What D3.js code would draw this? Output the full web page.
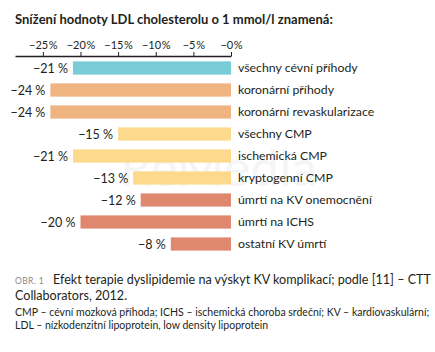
<!DOCTYPE html>
<html>
<head>
<meta charset="utf-8">
<script src="https://cdn.jsdelivr.net/npm/d3@7"></script>
<style>
  body { margin: 0; background: #fff; }
  svg { font-family: Lato, sans-serif; }
</style>
</head>
<body>
<div id="chart"></div>
<script>
const categories = [
    "všechny cévní příhody",
    "koronární příhody",
    "koronární revaskularizace",
    "všechny CMP",
    "ischemická CMP",
    "kryptogenní CMP",
    "úmrtí na KV onemocnění",
    "úmrtí na ICHS",
    "ostatní KV úmrtí"
];
const values = [-21, -24, -24, -15, -21, -13, -12, -20, -8];
const groups = ["all", "coronary", "coronary", "stroke", "stroke", "stroke", "death", "death", "death"];
const tickValues = [-25, -20, -15, -10, -5, 0];

const colors = d3.scaleOrdinal()
    .domain(["all", "coronary", "stroke", "death"])
    .range(["#77ccd5", "#f0b482", "#fdd98e", "#e0886f"]);

// shrink/grow a text's font so that it spans a given width
function fitWidth(sel, target) {
    const node = sel.node();
    const size = parseFloat(sel.style("font-size"));
    const w = node.getComputedTextLength();
    sel.style("font-size", (size * target / w).toFixed(2) + "px");
}

function renderChart() {
    const width = 435, height = 352;
    const svg = d3.select("#chart").append("svg")
        .attr("width", width)
        .attr("height", height);

    // watermark
    const mark = svg.append("text")
        .attr("x", 120)
        .attr("y", 186)
        .style("font-size", "50px")
        .style("fill", "#000")
        .style("opacity", 0.035)
        .text("ReMedia");
    fitWidth(mark, 197);

    // Title
    const title = svg.append("text")
        .attr("x", 15)
        .attr("y", 24)
        .style("font-size", "14px")
        .style("font-weight", "bold")
        .style("fill", "#231f20")
        .text("Snížení hodnoty LDL cholesterolu o 1 mmol/l znamená:");
    fitWidth(title, 318);

    const x = d3.scaleLinear()
        .domain([-28.7, 0])
        .range([15, 231]);

    const y = d3.scaleBand()
        .domain(categories)
        .range([57, 255])
        .paddingInner(0.4)
        .paddingOuter(0.2);

    // Axis
    const axis = svg.append("g")
        .attr("transform", "translate(0,56)")
        .call(d3.axisTop(x).tickValues(tickValues).tickSize(4).tickSizeOuter(0)
            .tickFormat(d => "\u2212" + Math.abs(d) + "\u200a%"));
    axis.select(".domain").attr("stroke", "#231f20").attr("stroke-width", 1.3);
    axis.selectAll(".tick line").attr("stroke", "#231f20");
    axis.selectAll(".tick text")
        .attr("y", -7)
        .style("font-size", "11px")
        .style("font-family", "Lato, sans-serif")
        .style("fill", "#231f20");

    // Bars
    svg.selectAll("rect.bar")
        .data(categories)
        .enter().append("rect")
        .attr("class", "bar")
        .attr("x", (d, i) => x(values[i]))
        .attr("y", d => y(d))
        .attr("width", (d, i) => x(0) - x(values[i]))
        .attr("height", y.bandwidth())
        .attr("fill", (d, i) => colors(groups[i]));

    // Value labels
    svg.selectAll("text.val")
        .data(categories)
        .enter().append("text")
        .attr("class", "val")
        .attr("x", (d, i) => x(values[i]) - 5)
        .attr("y", d => y(d) + y.bandwidth() / 2)
        .attr("dy", "0.36em")
        .attr("text-anchor", "end")
        .style("font-size", "12.5px")
        .style("fill", "#231f20")
        .text((d, i) => "\u2212" + Math.abs(values[i]) + " %");

    // Category labels
    svg.selectAll("text.cat")
        .data(categories)
        .enter().append("text")
        .attr("class", "cat")
        .attr("x", x(0) + 7)
        .attr("y", d => y(d) + y.bandwidth() / 2)
        .attr("dy", "0.36em")
        .style("font-size", "12.3px")
        .style("fill", "#231f20")
        .text(d => d);

    // Caption
    svg.append("text")
        .attr("x", 15)
        .attr("y", 284)
        .style("font-size", "8.5px")
        .style("fill", "#8a8a8a")
        .style("letter-spacing", "0.4px")
        .text("OBR. 1");
    const cap1 = svg.append("text")
        .attr("x", 53)
        .attr("y", 284)
        .style("font-size", "13px")
        .style("fill", "#231f20")
        .text("Efekt terapie dyslipidemie na výskyt KV komplikací; podle [11] – CTT");
    fitWidth(cap1, 378);
    svg.append("text")
        .attr("x", 15)
        .attr("y", 300)
        .style("font-size", cap1.style("font-size"))
        .style("fill", "#231f20")
        .text("Collaborators, 2012.");

    const notes = [
        "CMP – cévní mozková příhoda; ICHS – ischemická choroba srdeční; KV – kardiovaskulární;",
        "LDL – nízkodenzitní lipoprotein, low density lipoprotein"
    ];
    const noteText = svg.selectAll("text.note")
        .data(notes)
        .enter().append("text")
        .attr("class", "note")
        .attr("x", 15)
        .attr("y", (d, i) => 316 + i * 12.5)
        .style("font-size", "10.8px")
        .style("fill", "#231f20")
        .text(d => d);
    const first = noteText.filter((d, i) => i === 0);
    fitWidth(first, 414);
    noteText.style("font-size", first.style("font-size"));
}

renderChart();
</script>
</body>
</html>
